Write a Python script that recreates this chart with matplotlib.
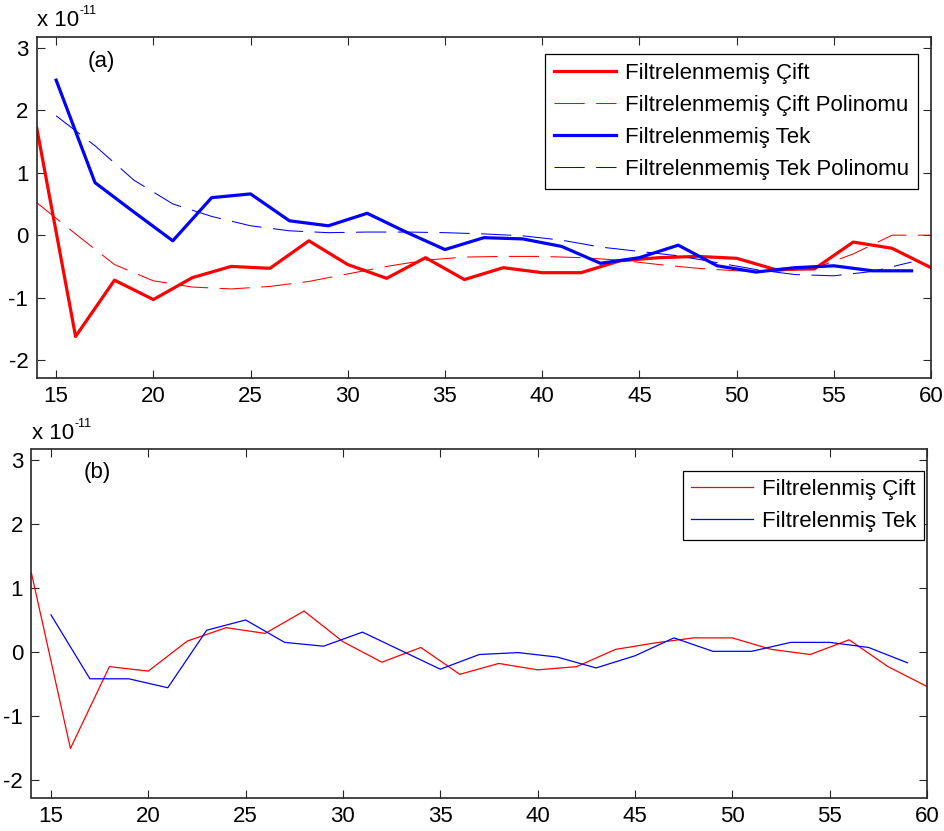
import matplotlib
matplotlib.use("Agg")
import matplotlib.pyplot as plt

plt.rcParams['font.family'] = ['Liberation Sans', 'DejaVu Sans']
plt.rcParams['axes.unicode_minus'] = False

# x positions: even (cift) and odd (tek)
x_cift = [14, 16, 18, 20, 22, 24, 26, 28, 30, 32, 34, 36, 38, 40, 42, 44, 46, 48, 50, 52, 54, 56, 58, 60]
x_tek = [15, 17, 19, 21, 23, 25, 27, 29, 31, 33, 35, 37, 39, 41, 43, 45, 47, 49, 51, 53, 55, 57, 59]

# (a) filtrelenmemis
a_cift = [1.72, -1.62, -0.72, -1.03, -0.68, -0.50, -0.53, -0.09, -0.47, -0.69, -0.36, -0.71,
          -0.52, -0.60, -0.60, -0.41, -0.36, -0.34, -0.37, -0.55, -0.54, -0.11, -0.21, -0.52]
a_cift_pol = [0.52, 0.02, -0.47, -0.73, -0.83, -0.86, -0.82, -0.74, -0.62, -0.50, -0.40, -0.35,
              -0.34, -0.34, -0.36, -0.40, -0.47, -0.53, -0.57, -0.58, -0.53, -0.30, 0.0, 0.0]
a_tek = [2.48, 0.84, 0.37, -0.09, 0.60, 0.66, 0.23, 0.15, 0.35, 0.05, -0.23, -0.04,
         -0.06, -0.18, -0.45, -0.36, -0.16, -0.49, -0.59, -0.52, -0.49, -0.57, -0.57]
a_tek_pol = [1.91, 1.43, 0.88, 0.50, 0.30, 0.15, 0.07, 0.04, 0.05, 0.05, 0.04, 0.02,
             -0.01, -0.08, -0.19, -0.26, -0.33, -0.44, -0.55, -0.63, -0.65, -0.58, -0.43]

# (b) filtrelenmis
b_cift = [1.23, -1.51, -0.23, -0.30, 0.17, 0.38, 0.29, 0.64, 0.16, -0.16, 0.07, -0.35,
          -0.18, -0.28, -0.23, 0.04, 0.14, 0.22, 0.22, 0.04, -0.04, 0.19, -0.23, -0.54]
b_tek = [0.58, -0.42, -0.42, -0.56, 0.34, 0.50, 0.15, 0.09, 0.31, 0.02, -0.27, -0.04,
         -0.01, -0.08, -0.25, -0.06, 0.22, 0.01, 0.01, 0.15, 0.15, 0.07, -0.17]

xticks = [15, 20, 25, 30, 35, 40, 45, 50, 55, 60]
yticks = [-2, -1, 0, 1, 2, 3]

W, H = 945, 831
fig = plt.figure(figsize=(W / 100, H / 100), dpi=100)
ax1 = fig.add_axes([36.7 / W, 1 - 377.7 / H, (931 - 36.7) / W, (377.7 - 37) / H])
ax2 = fig.add_axes([31.5 / W, 1 - 797.7 / H, (927 - 31.5) / W, (797.7 - 449.3) / H])

dash = (0, (29, 11))
ax1.plot(x_cift, a_cift, color='#ff0000', lw=2.3, label='Filtrelenmemiş Çift')
ax1.plot(x_cift, a_cift_pol, color='#ff0000', lw=0.75, linestyle=dash, label='Filtrelenmemiş Çift Polinomu')
ax1.plot(x_tek, a_tek, color='#0000ff', lw=2.3, label='Filtrelenmemiş Tek')
ax1.plot(x_tek, a_tek_pol, color='#0000ff', lw=0.75, linestyle=dash, label='Filtrelenmemiş Tek Polinomu')

ax2.plot(x_cift, b_cift, color='#ff0000', lw=0.9, label='Filtrelenmiş Çift')
ax2.plot(x_tek, b_tek, color='#0000ff', lw=0.9, label='Filtrelenmiş Tek')

for ax in (ax1, ax2):
    ax.set_xlim(14, 60)
    ax.set_ylim(-2.28, 3.17)
    ax.set_xticks(xticks)
    ax.set_yticks(yticks)
    ax.tick_params(direction='in', length=5.5, width=0.8, top=True, right=True,
                   labelsize=16, pad=6, colors='#262626', labelcolor='black')
    for sp in ax.spines.values():
        sp.set_linewidth(1.2)
        sp.set_color('#262626')

ax1.text(17.3, 2.78, '(a)', fontsize=16, ha='center', va='center')
ax2.text(17.4, 2.81, '(b)', fontsize=16, ha='center', va='center')

leg1 = ax1.legend(loc='upper right', bbox_to_anchor=(0.985, 0.95), fontsize=16,
                  handlelength=2.8, handletextpad=0.4, labelspacing=0.5,
                  borderpad=0.4, borderaxespad=0, fancybox=False, framealpha=1)
leg1.get_frame().set_edgecolor('black')
leg1.get_frame().set_linewidth(0.9)

leg2 = ax2.legend(loc='upper right', bbox_to_anchor=(0.997, 0.938), fontsize=16,
                  handlelength=2.8, handletextpad=0.4, labelspacing=0.5,
                  borderpad=0.35, borderaxespad=0, fancybox=False, framealpha=1)
leg2.get_frame().set_edgecolor('black')
leg2.get_frame().set_linewidth(0.9)

# exponent labels
fig.text(37 / W, 1 - 26 / H, 'x 10', fontsize=16, va='baseline', ha='left')
fig.text(80 / W, 1 - 14 / H, '-11', fontsize=9, va='baseline', ha='left')
fig.text(32 / W, 1 - 439 / H, 'x 10', fontsize=16, va='baseline', ha='left')
fig.text(75 / W, 1 - 427 / H, '-11', fontsize=9, va='baseline', ha='left')

fig.savefig('out.png', dpi=100)
